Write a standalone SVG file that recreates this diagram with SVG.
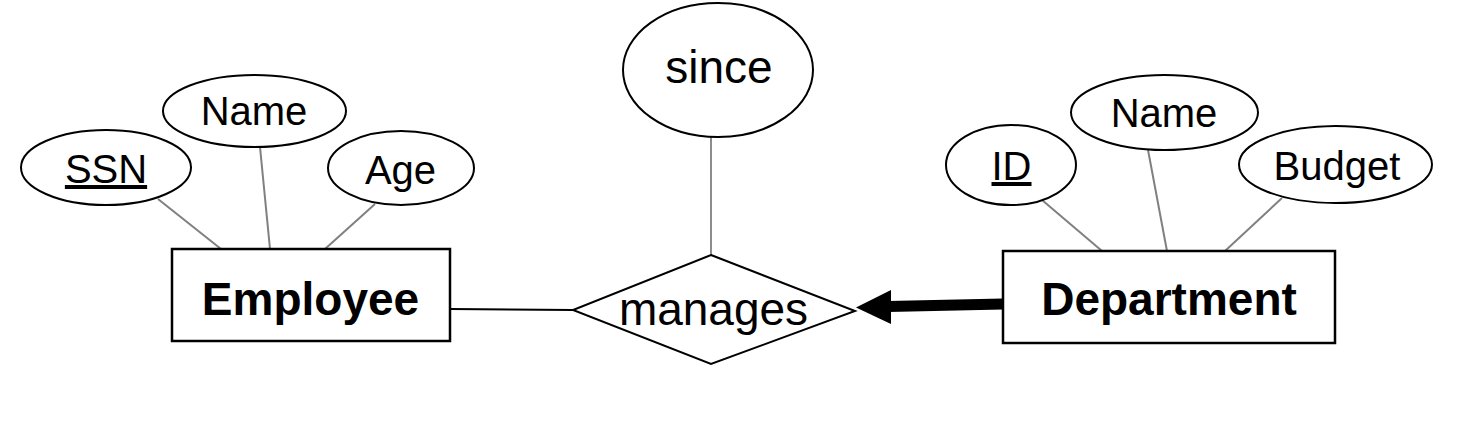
<svg xmlns="http://www.w3.org/2000/svg" width="1478" height="424" viewBox="0 0 1478 424">
<style>
.attr{fill:#fff;stroke:#000;stroke-width:2}
.ent{fill:#fff;stroke:#000;stroke-width:2.5}
.t{font-family:"Liberation Sans",Arial,sans-serif;fill:#000;text-anchor:middle}
.ta{font-size:40px}
.tb{font-size:46px;font-weight:bold}
.tr{font-size:46px}
.gl{stroke:#808080;stroke-width:2;fill:none}
</style>
<rect width="1478" height="424" fill="#fff"/>
<g id="connectors">
<line class="gl" x1="158" y1="199" x2="221" y2="249"/>
<line class="gl" x1="260" y1="147" x2="270" y2="249"/>
<line class="gl" x1="375" y1="204" x2="325" y2="249"/>
<line class="gl" x1="1042" y1="200" x2="1102" y2="251"/>
<line class="gl" x1="1148" y1="150" x2="1167" y2="251"/>
<line class="gl" x1="1282" y1="198" x2="1225" y2="251"/>
<line x1="711" y1="137" x2="711" y2="255" stroke="#808080" stroke-width="1.8"/>
<line x1="450" y1="309" x2="573" y2="310" stroke="#000" stroke-width="2"/>
<line x1="888" y1="306.5" x2="1003" y2="304" stroke="#000" stroke-width="11"/>
<polygon points="856,307.5 891,290 891,324" fill="#000"/>
</g>
<g id="ssn"><ellipse class="attr" cx="106" cy="167.5" rx="85" ry="37.5"/><text class="t ta" x="106" y="183" text-decoration="underline">SSN</text></g>
<g id="emp-name"><ellipse class="attr" cx="254.5" cy="111" rx="91.5" ry="36"/><text class="t ta" x="254" y="125">Name</text></g>
<g id="age"><ellipse class="attr" cx="401" cy="168" rx="73" ry="37"/><text class="t ta" x="400.5" y="184">Age</text></g>
<g id="employee"><rect class="ent" x="172" y="249" width="278" height="92"/><text class="t tb" x="310.5" y="315">Employee</text></g>
<g id="since"><ellipse class="attr" cx="718" cy="70" rx="95" ry="67"/><text class="t tr" x="719" y="83">since</text></g>
<g id="manages"><polygon points="711,255 855,311 711,364 573,310" fill="#fff" stroke="#000" stroke-width="2"/><text class="t tr" x="713.5" y="325">manages</text></g>
<g id="id"><ellipse class="attr" cx="1011" cy="165" rx="65" ry="40"/><text class="t ta" x="1011.5" y="180" text-decoration="underline">ID</text></g>
<g id="dept-name"><ellipse class="attr" cx="1164.5" cy="112.5" rx="93.5" ry="37.5"/><text class="t ta" x="1164" y="127">Name</text></g>
<g id="budget"><ellipse class="attr" cx="1335.5" cy="164.5" rx="96.5" ry="38.5"/><text class="t ta" x="1337" y="180">Budget</text></g>
<g id="department"><rect class="ent" x="1003" y="251" width="332" height="92"/><text class="t tb" x="1169" y="315">Department</text></g>
</svg>
